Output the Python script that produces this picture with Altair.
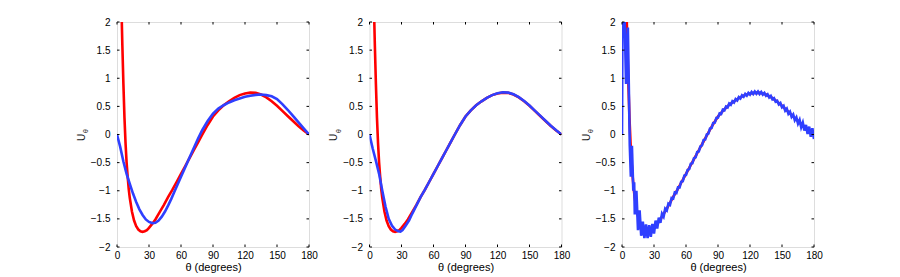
import altair as alt
import pandas as pd

theta_ticks = [0, 30, 60, 90, 120, 150, 180]
u_ticks = [-2, -1.5, -1, -0.5, 0, 0.5, 1, 1.5, 2]

red_theta = [0, 2, 4, 5, 6, 7, 8, 9, 10, 11, 12, 14, 16, 18, 20, 22, 24, 26, 28, 30, 33, 36, 40, 44, 48,
             52, 56, 60, 64, 68, 72, 76, 80, 85, 90, 95, 100, 105, 110, 115, 120, 125, 130, 135, 140,
             145, 150, 155, 160, 165, 170, 175, 180]
red_u = [9.0, 5.0, 2.4, 1.6, 0.9, 0.3, -0.15, -0.5, -0.75, -0.97, -1.13, -1.37, -1.53, -1.63, -1.69,
         -1.72, -1.73, -1.72, -1.70, -1.66, -1.59, -1.51, -1.38, -1.25, -1.11, -0.98, -0.84, -0.70,
         -0.56, -0.42, -0.28, -0.14, 0.0, 0.17, 0.32, 0.43, 0.52, 0.59, 0.65, 0.70, 0.73, 0.745, 0.74,
         0.71, 0.66, 0.59, 0.51, 0.42, 0.33, 0.24, 0.15, 0.07, 0.0]

blue1_theta = [0, 3, 6, 9, 12, 15, 18, 21, 24, 27, 30, 33, 36, 39, 42, 45, 48, 51, 54, 57, 60, 64, 68,
               72, 76, 80, 85, 90, 95, 100, 105, 110, 115, 120, 125, 130, 135, 140, 145, 150, 155, 160,
               165, 170, 175, 180]
blue1_u = [0.0, -0.22, -0.48, -0.70, -0.88, -1.05, -1.20, -1.33, -1.43, -1.51, -1.555, -1.575, -1.57,
           -1.53, -1.46, -1.37, -1.26, -1.14, -1.01, -0.88, -0.75, -0.58, -0.41, -0.24, -0.07, 0.08,
           0.24, 0.37, 0.46, 0.52, 0.57, 0.61, 0.64, 0.67, 0.69, 0.705, 0.71, 0.70, 0.68, 0.63, 0.54,
           0.44, 0.33, 0.22, 0.11, 0.0]

blue2_theta = [0, 3, 6, 9, 12, 15, 18, 21, 24, 27, 29, 31, 34, 37, 40, 44, 48, 52, 56, 60, 64, 68, 72,
               76, 80, 85, 90, 95, 100, 105, 110, 115, 120, 125, 130, 135, 140, 145, 150, 155, 160, 165,
               170, 175, 180]
blue2_u = [0.0, -0.25, -0.47, -0.70, -1.0, -1.28, -1.50, -1.62, -1.69, -1.72, -1.725, -1.70, -1.62,
           -1.53, -1.41, -1.26, -1.11, -0.98, -0.84, -0.70, -0.56, -0.42, -0.28, -0.14, 0.0, 0.17, 0.32,
           0.43, 0.52, 0.59, 0.65, 0.70, 0.735, 0.75, 0.745, 0.715, 0.665, 0.595, 0.515, 0.425, 0.335,
           0.245, 0.155, 0.075, 0.0]

blue3_theta = [0, 0.6, 2.2, 3.8, 5.5, 7.3, 8.3, 9.3, 10.6, 11.4,
               12.0, 13.5, 15.0, 16.5, 18.0, 19.5, 21.0, 22.5, 24.0, 25.5, 27.0, 28.5, 30.0, 31.5,
               33.0, 34.5, 36.0, 37.5, 39.0, 40.5, 42.0, 43.5, 45.0, 46.5, 48.0, 49.5, 51.0, 52.5,
               54.0, 55.5, 57.0, 58.5, 60.0, 61.5, 63.0, 64.5, 66.0, 67.5, 69.0, 70.5, 72.0, 73.5,
               75.0, 76.5, 78.0, 79.5, 81.0, 82.5, 84.0, 85.5, 87.0, 88.5, 90.0, 91.5, 93.0, 94.5,
               96.0, 97.5, 99.0, 100.5, 102.0, 103.5, 105.0, 106.5, 108.0, 109.5, 111.0, 112.5,
               114.0, 115.5, 117.0, 118.5, 120.0, 121.5, 123.0, 124.5, 126.0, 127.5, 129.0, 130.5,
               132.0, 133.5, 135.0, 136.5, 138.0, 139.5, 141.0, 142.5, 144.0, 145.5, 147.0, 148.5,
               150.0, 151.5, 153.0, 154.5, 156.0, 157.5, 159.0, 160.5, 162.0, 163.5, 165.0, 166.5,
               168.0, 169.5, 171.0, 172.5, 174.0, 175.5, 177.0, 178.5, 180.0]
blue3_u = [0.0, 2.6, 2.3, 0.9, 1.9, -0.2, -0.75, -0.2, -1.0, -0.85,
           -1.42, -1.0, -1.70, -1.35, -1.80, -1.55, -1.84, -1.60, -1.84, -1.61, -1.82, -1.59, -1.76,
           -1.53, -1.67, -1.48, -1.57, -1.41, -1.46, -1.32, -1.35, -1.23, -1.25, -1.13, -1.14, -1.03,
           -1.04, -0.94, -0.94, -0.84, -0.83, -0.73, -0.72, -0.63, -0.615, -0.52, -0.51, -0.42, -0.405,
           -0.31, -0.30, -0.21, -0.195, -0.10, -0.09, 0.0, 0.015, 0.105, 0.115, 0.205, 0.21, 0.295,
           0.30, 0.375, 0.365, 0.44, 0.43, 0.495, 0.48, 0.55, 0.53, 0.59, 0.57, 0.63, 0.605, 0.665,
           0.64, 0.695, 0.67, 0.72, 0.69, 0.74, 0.71, 0.755, 0.72, 0.765, 0.725, 0.765, 0.72, 0.755,
           0.71, 0.74, 0.69, 0.715, 0.66, 0.685, 0.625, 0.645, 0.585, 0.60, 0.535, 0.56, 0.485, 0.51,
           0.425, 0.46, 0.37, 0.405, 0.315, 0.355, 0.255, 0.305, 0.195, 0.26, 0.13, 0.21, 0.07, 0.17,
           0.01, 0.14, -0.04, 0.11, -0.08]

RED = "#ff0000"
BLUE = "#2f3fff"
W, H = 192, 225
FONT = "Liberation Sans"
TICK = 2.5
LW = 2.6


def panel(bt, bu):
    xs = alt.Scale(domain=[0, 180], nice=False, zero=False)
    ys = alt.Scale(domain=[-2, 2], nice=False, zero=False)
    xaxis = alt.Axis(values=theta_ticks, title="θ (degrees)", labelPadding=3, titlePadding=1,
                     labelFlush=False, grid=False, ticks=False, tickSize=0, domain=False,
                     titleFontWeight="normal")
    yaxis = alt.Axis(values=u_ticks, title=None, format="~g", labelPadding=7, labelFlush=False,
                     grid=False, ticks=False, tickSize=0, domain=False)
    X = alt.X("t:Q", scale=xs, axis=xaxis)
    Y = alt.Y("u:Q", scale=ys, axis=yaxis)
    red = alt.Chart(pd.DataFrame({"t": red_theta, "u": red_u})).mark_line(
        color=RED, strokeWidth=LW, clip=True).encode(x=X, y=Y)
    blue = alt.Chart(pd.DataFrame({"t": bt, "u": bu})).mark_line(
        color=BLUE, strokeWidth=LW, clip=True).encode(x=X, y=Y)
    xt = pd.DataFrame({"t": theta_ticks})
    yt = pd.DataFrame({"u": u_ticks})
    tb = alt.Chart(xt).mark_rule(color="#000", strokeWidth=1).encode(
        x=X, y=alt.value(H), y2=alt.value(H - TICK))
    tt = alt.Chart(xt).mark_rule(color="#000", strokeWidth=1).encode(
        x=X, y=alt.value(0), y2=alt.value(TICK))
    tl = alt.Chart(yt).mark_rule(color="#000", strokeWidth=1).encode(
        y=Y, x=alt.value(0), x2=alt.value(TICK))
    tr = alt.Chart(yt).mark_rule(color="#000", strokeWidth=1).encode(
        y=Y, x=alt.value(W), x2=alt.value(W - TICK))
    one = pd.DataFrame({"a": [0]})
    tu = alt.Chart(one).mark_text(text="U", angle=270, font=FONT, fontSize=10, color="#222",
                                  align="center", baseline="middle").encode(
        x=alt.value(-35.5), y=alt.value(H / 2 + 3))
    tth = alt.Chart(one).mark_text(text="θ", angle=270, font=FONT, fontSize=7, color="#222",
                                   align="center", baseline="middle").encode(
        x=alt.value(-31), y=alt.value(H / 2 - 3.5))
    return alt.layer(red, blue, tb, tt, tl, tr, tu, tth).properties(width=W, height=H)


chart = alt.hconcat(
    panel(blue1_theta, blue1_u),
    panel(blue2_theta, blue2_u),
    panel(blue3_theta, blue3_u),
    spacing=60.5, bounds="flush",
).properties(
    padding={"left": 68, "top": 8, "right": 5, "bottom": 5}
).configure_view(
    stroke="#000", strokeWidth=1
).configure_axis(
    domain=False, ticks=False, grid=False, labelFont=FONT, labelFontSize=9.5, labelColor="#222",
    titleFont=FONT, titleFontSize=10, titleFontWeight="normal", titleColor="#222"
).configure(background="white")

chart.save("out.html", embed_options={"renderer": "svg", "actions": False})
